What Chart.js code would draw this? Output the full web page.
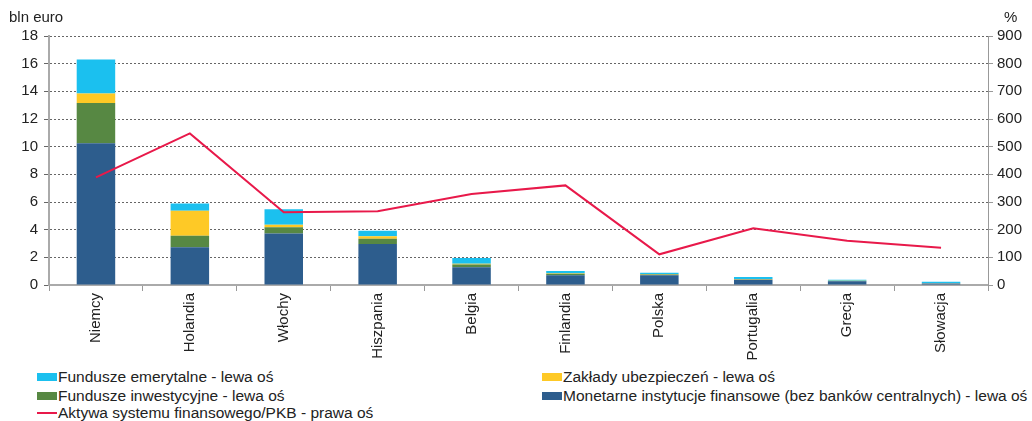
<!DOCTYPE html>
<html>
<head>
<meta charset="utf-8">
<script src="https://cdn.jsdelivr.net/npm/chart.js@4.4.1/dist/chart.umd.min.js"></script>
<style>
body { margin: 0; background: #fff; font-family: "Liberation Sans", Arial, sans-serif; }
#wrap { position: relative; width: 1032px; height: 421px; }
#c { position: absolute; left: 0; top: 0; }
.lg { position: absolute; font-size: 15.5px; color: #222; white-space: nowrap; line-height: 18px; }
.lg i { display: inline-block; width: 20px; height: 8px; vertical-align: 1px; margin-right: 1px; }
.lg i.ln { height: 2px; vertical-align: 4px; }
</style>
</head>
<body>
<div id="wrap">
<canvas id="c" width="1032" height="368"></canvas>
</div>
<script>
var countries = ['Niemcy', 'Holandia', 'Włochy', 'Hiszpania', 'Belgia', 'Finlandia', 'Polska', 'Portugalia', 'Grecja', 'Słowacja'];
var mfi = [10.25, 2.72, 3.73, 2.96, 1.28, 0.70, 0.70, 0.38, 0.27, 0.10];
var inwestycyjne = [2.9, 0.84, 0.44, 0.39, 0.20, 0.12, 0.06, 0.02, 0.02, 0.01];
var ubezpieczen = [0.7, 1.81, 0.19, 0.17, 0.05, 0.03, 0.03, 0.03, 0.01, 0.01];
var emerytalne = [2.45, 0.53, 1.11, 0.41, 0.43, 0.16, 0.10, 0.15, 0.08, 0.12];
var aktywaPkb = [389, 548, 263, 267, 329, 360, 111, 205, 160, 135];

var cPens = '#1bc0ef', cIns = '#fec926', cInv = '#578843', cMfi = '#2d5d8d', cLine = '#e8194a';

var labels = [
    ['Fundusze emerytalne - lewa oś', cPens, false, 37, 368],
    ['Zakłady ubezpieczeń - lewa oś', cIns, false, 542, 368],
    ['Fundusze inwestycyjne - lewa oś', cInv, false, 37, 387],
    ['Monetarne instytucje finansowe (bez banków centralnych) - lewa oś', cMfi, false, 542, 387],
    ['Aktywa systemu finansowego/PKB - prawa oś', cLine, true, 37, 404]
];
var wrap = document.getElementById('wrap');
labels.forEach(function (l) {
    var d = document.createElement('div');
    d.className = 'lg';
    d.style.left = l[3] + 'px';
    d.style.top = l[4] + 'px';
    d.innerHTML = '<i class="' + (l[2] ? 'ln' : '') + '" style="background:' + l[1] + '"></i>' + l[0];
    wrap.appendChild(d);
});

var axisTitles = {
    id: 'axisTitles',
    afterDraw: function (chart) {
        var ctx = chart.ctx;
        ctx.save();
        ctx.fillStyle = '#222';
        ctx.font = '15px "Liberation Sans", Arial, sans-serif';
        ctx.textBaseline = 'middle';
        ctx.textAlign = 'left';
        ctx.fillText('bln euro', 9, 18);
        ctx.fillText('%', 1004, 18);
        ctx.restore();
    }
};

var tickFont = { family: '"Liberation Sans", Arial, sans-serif', size: 15 };

new Chart(document.getElementById('c'), {
    type: 'bar',
    data: {
        labels: countries,
        datasets: [
            { label: 'Aktywa systemu finansowego/PKB - prawa oś', type: 'line', data: aktywaPkb, yAxisID: 'y1',
              borderColor: cLine, borderWidth: 2, pointRadius: 0, tension: 0, order: 0 },
            { label: 'Monetarne instytucje finansowe', data: mfi, backgroundColor: cMfi, order: 1 },
            { label: 'Fundusze inwestycyjne', data: inwestycyjne, backgroundColor: cInv, order: 1 },
            { label: 'Zakłady ubezpieczeń', data: ubezpieczen, backgroundColor: cIns, order: 1 },
            { label: 'Fundusze emerytalne', data: emerytalne, backgroundColor: cPens, order: 1 }
        ]
    },
    options: {
        responsive: false,
        animation: false,
        layout: { padding: { top: 36, left: 0, right: 0, bottom: 0 } },
        datasets: { bar: { barPercentage: 0.41, categoryPercentage: 1.0 } },
        plugins: { legend: { display: false }, tooltip: { enabled: false } },
        scales: {
            x: {
                stacked: true,
                grid: { drawOnChartArea: false, color: '#999', tickLength: 6 },
                border: { color: '#aaa', width: 2 },
                ticks: { minRotation: 90, maxRotation: 90, color: '#222', font: { family: tickFont.family, size: 15 }, padding: 2 },
                afterFit: function (s) { s.height = 368 - 285; }
            },
            y: {
                stacked: true,
                min: 0, max: 18,
                ticks: { stepSize: 2, color: '#222', font: tickFont, padding: 6 },
                grid: { color: '#666', tickLength: 5 },
                border: { dash: [2, 2], color: '#aaa', width: 2 },
                afterFit: function (s) { s.width = 49; }
            },
            y1: {
                position: 'right',
                min: 0, max: 900,
                ticks: { stepSize: 100, color: '#222', font: tickFont, padding: 4 },
                grid: { drawOnChartArea: false, color: '#999', tickLength: 5 },
                border: { color: '#999', width: 1 },
                afterFit: function (s) { s.width = 1032 - 988; }
            }
        }
    },
    plugins: [axisTitles]
});
</script>
</body>
</html>
